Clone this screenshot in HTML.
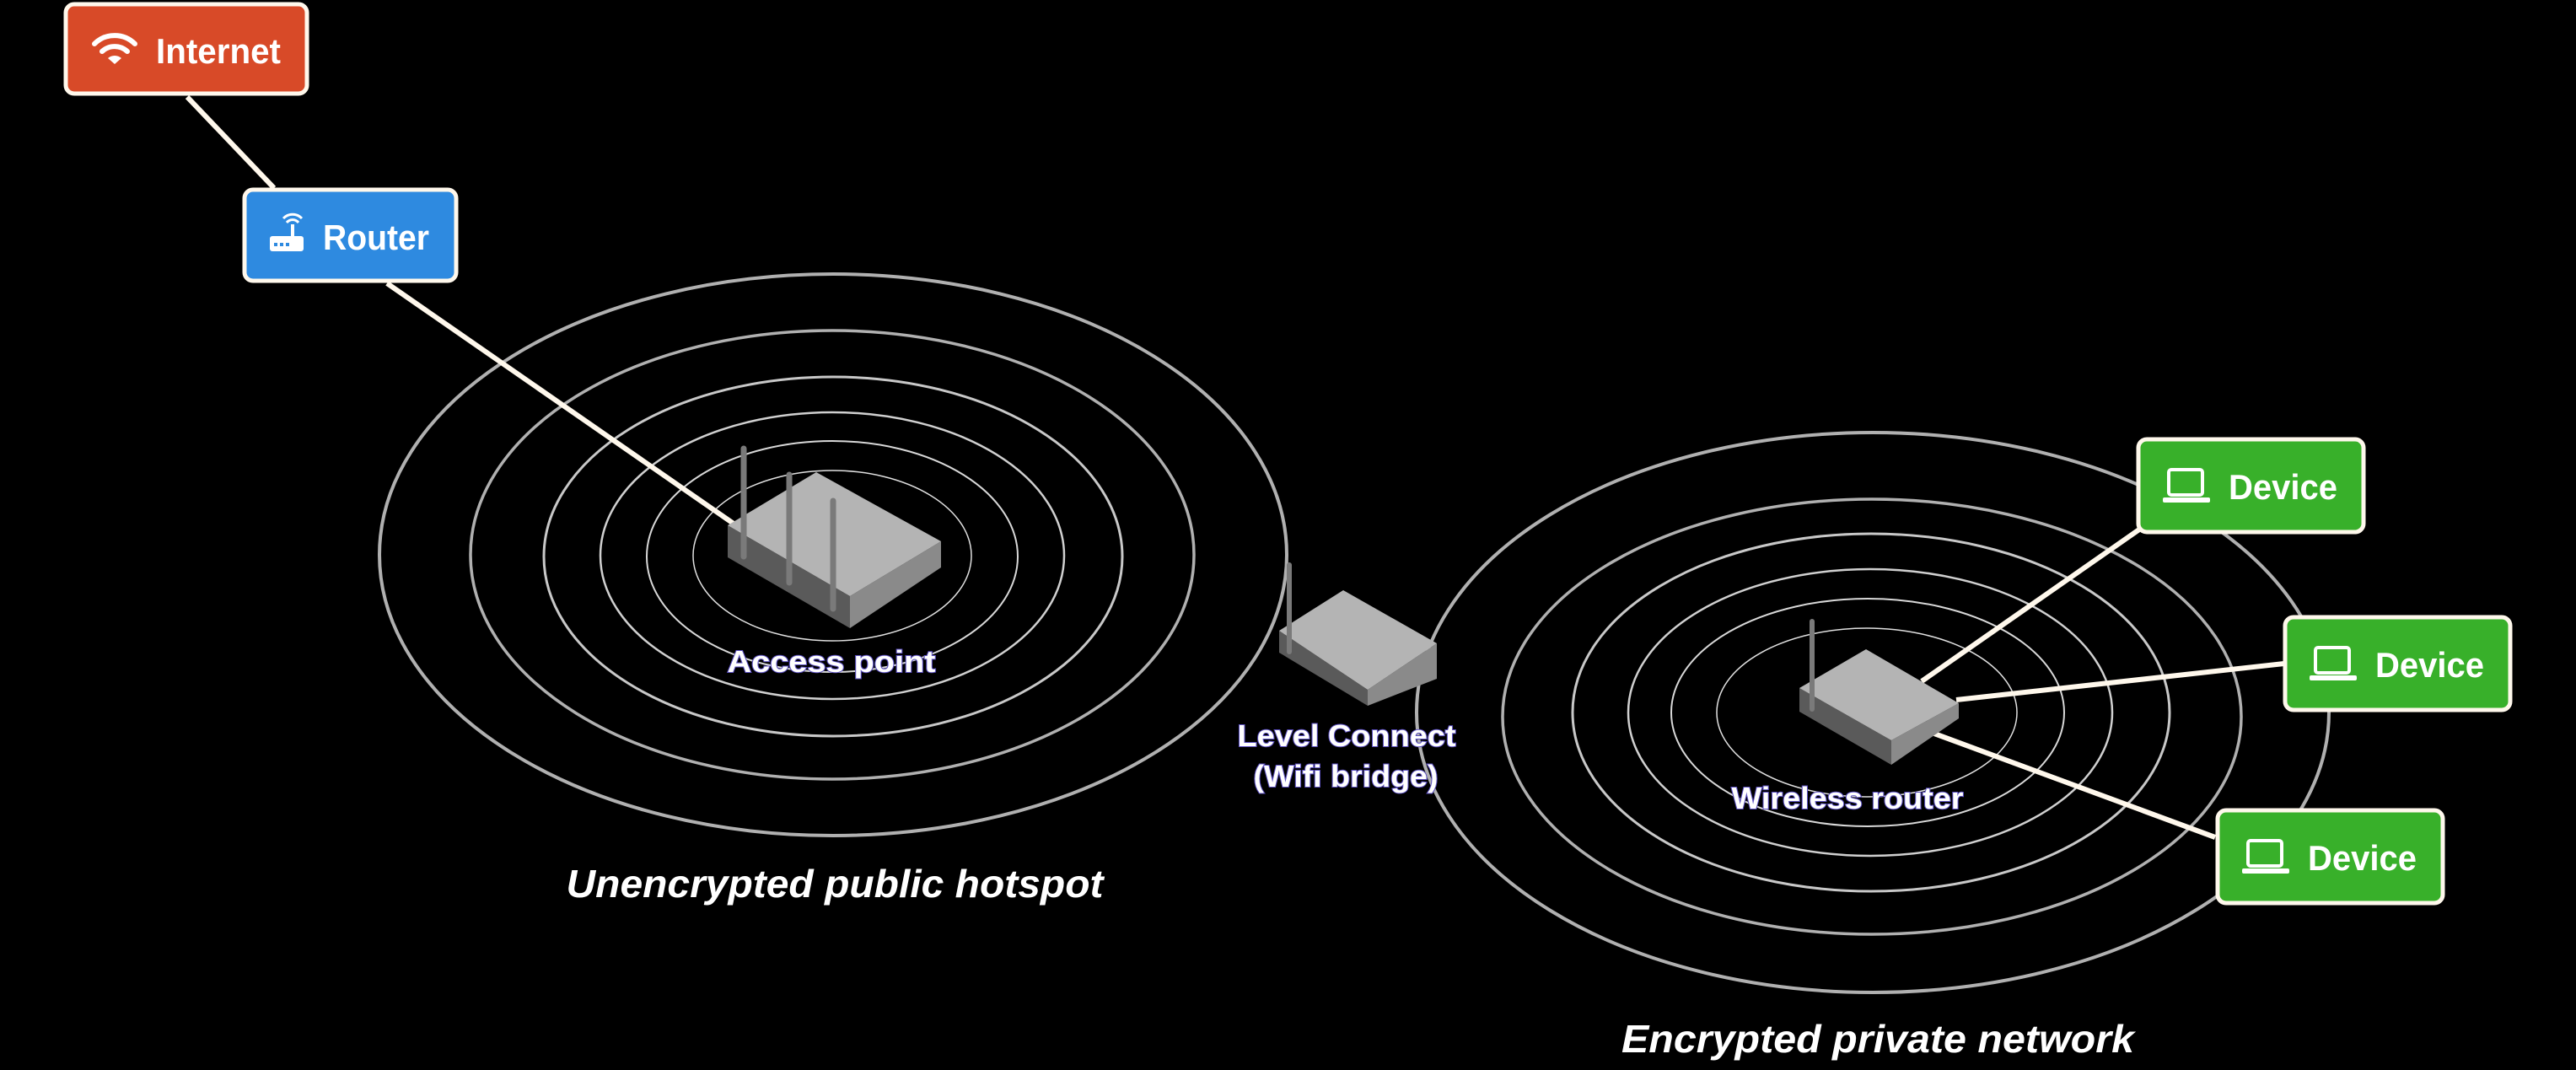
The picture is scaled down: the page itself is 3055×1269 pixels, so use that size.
<!DOCTYPE html>
<html><head><meta charset="utf-8"><style>
html,body{margin:0;padding:0;background:#000;}
svg{display:block}
text{font-family:"Liberation Sans",sans-serif;font-weight:bold;}
.lbl{fill:#fff;stroke:#5b4fc0;stroke-width:2;paint-order:stroke;font-size:36px}
.bt{fill:#fff;font-size:42px}
.it{fill:#fff;font-style:italic;font-size:46px}
</style></head><body>
<svg width="3055" height="1269" viewBox="0 0 3055 1269" xmlns="http://www.w3.org/2000/svg">
<rect width="3055" height="1269" fill="#000"/>
<g fill="none" stroke="#b0b0b0">
<ellipse cx="988" cy="658" rx="538" ry="333" stroke-width="4"/>
<ellipse cx="987" cy="658" rx="429" ry="266" stroke-width="3.5"/>
<ellipse cx="988" cy="660" rx="343" ry="213" stroke-width="3" stroke="#c8c8c8"/>
<ellipse cx="987" cy="659" rx="275" ry="170" stroke-width="2.5" stroke="#d0d0d0"/>
<ellipse cx="987" cy="660" rx="220" ry="137" stroke-width="2" stroke="#d8d8d8"/>
<ellipse cx="987" cy="659" rx="165" ry="101" stroke-width="1.5" stroke="#e0e0e0"/>
<ellipse cx="2221" cy="845" rx="541" ry="332" stroke-width="4"/>
<ellipse cx="2220" cy="850" rx="438" ry="258" stroke-width="3.5"/>
<ellipse cx="2219" cy="845" rx="354" ry="212" stroke-width="3" stroke="#c8c8c8"/>
<ellipse cx="2218" cy="845" rx="287" ry="170" stroke-width="2.5" stroke="#d0d0d0"/>
<ellipse cx="2215" cy="845" rx="233" ry="135" stroke-width="2" stroke="#d8d8d8"/>
<ellipse cx="2214" cy="845" rx="178" ry="100" stroke-width="1.5" stroke="#e0e0e0"/>
</g>
<g stroke="#fff8ec" stroke-width="6" fill="none">
<line x1="222" y1="115" x2="325" y2="223"/>
<line x1="459" y1="336" x2="870" y2="621"/>
<line x1="2537" y1="628" x2="2279" y2="808"/>
<line x1="2709" y1="787" x2="2320" y2="830"/>
<line x1="2627" y1="993" x2="2294" y2="870"/>
</g>
<!-- Access point -->
<polygon points="863,623 1008,707 1008,745 863,661" fill="#5a5a5a"/>
<polygon points="1008,707 1116,642 1116,673 1008,745" fill="#8a8a8a"/>
<polygon points="968,560 1116,642 1008,707 863,623" fill="#b4b4b4"/>
<g stroke="#7a7a7a" stroke-width="7" stroke-linecap="round">
<line x1="882" y1="532" x2="882" y2="660"/>
<line x1="936" y1="563" x2="936" y2="691"/>
<line x1="988" y1="594" x2="988" y2="722"/>
</g>
<!-- Level connect -->
<polygon points="1517,748 1622,818 1622,837 1517,774" fill="#5a5a5a"/>
<polygon points="1622,818 1704,763 1704,805 1622,837" fill="#8a8a8a"/>
<polygon points="1593,700 1704,763 1622,818 1517,748" fill="#b4b4b4"/>
<line x1="1529" y1="670" x2="1529" y2="773" stroke="#7a7a7a" stroke-width="6" stroke-linecap="round"/>
<!-- Wireless router -->
<polygon points="2134,816 2243,878 2243,907 2134,844" fill="#5a5a5a"/>
<polygon points="2243,878 2323,834 2323,852 2243,907" fill="#8a8a8a"/>
<polygon points="2213,770 2323,834 2243,878 2134,816" fill="#b4b4b4"/>
<line x1="2149" y1="737" x2="2149" y2="841" stroke="#7a7a7a" stroke-width="6" stroke-linecap="round"/>
<!-- labels -->
<text class="lbl" x="986" y="797" text-anchor="middle" textLength="247" lengthAdjust="spacingAndGlyphs">Access point</text>
<text class="lbl" x="1597" y="885" text-anchor="middle" textLength="259" lengthAdjust="spacingAndGlyphs">Level Connect</text>
<text class="lbl" x="1596" y="933" text-anchor="middle" textLength="219" lengthAdjust="spacingAndGlyphs">(Wifi bridge)</text>
<text class="lbl" x="2191" y="959" text-anchor="middle" textLength="275" lengthAdjust="spacingAndGlyphs">Wireless router</text>
<text class="it" x="990" y="1064" text-anchor="middle" textLength="637" lengthAdjust="spacingAndGlyphs">Unencrypted public hotspot</text>
<text class="it" x="2227" y="1248" text-anchor="middle" textLength="608" lengthAdjust="spacingAndGlyphs">Encrypted private network</text>
<!-- Internet -->
<rect x="78" y="5" width="286" height="106" rx="10" fill="#d84a28" stroke="#fff8ec" stroke-width="5"/>
<g fill="none" stroke="#fff" stroke-width="6" stroke-linecap="round">
<path d="M112,52 A34,34 0 0 1 160,52"/>
<path d="M121,61 A22,22 0 0 1 151,61"/>
</g>
<path d="M128,69 L136,76 L144,69 A12,12 0 0 0 128,69 Z" fill="#fff"/>
<text class="bt" x="185" y="75" textLength="148" lengthAdjust="spacingAndGlyphs">Internet</text>
<!-- Router -->
<rect x="290" y="225" width="251" height="108" rx="10" fill="#2e8ae0" stroke="#fff8ec" stroke-width="5"/>
<rect x="320" y="280" width="40" height="18" rx="3" fill="#fff"/>
<line x1="347" y1="280" x2="347" y2="266" stroke="#fff" stroke-width="4"/>
<g fill="none" stroke="#fff" stroke-width="3"><path d="M340,264 A9,9 0 0 1 354,264"/><path d="M336,259 A15,15 0 0 1 358,259"/></g>
<g fill="#2e8ae0"><rect x="325" y="288" width="4" height="4"/><rect x="332" y="288" width="4" height="4"/><rect x="339" y="288" width="4" height="4"/></g>
<text class="bt" x="383" y="296" textLength="126" lengthAdjust="spacingAndGlyphs">Router</text>
<!-- Devices -->
<g id="dev">
<rect x="2536" y="521" width="267" height="110" rx="10" fill="#38b02a" stroke="#fff8ec" stroke-width="5"/>
<rect x="2572" y="557" width="40" height="30" rx="3" fill="none" stroke="#fff" stroke-width="4"/>
<rect x="2565" y="590" width="56" height="6" rx="2" fill="#fff"/>
<text class="bt" x="2643" y="592" textLength="129" lengthAdjust="spacingAndGlyphs">Device</text>
</g>
<use href="#dev" transform="translate(174,211)"/>
<use href="#dev" transform="translate(94,440)"/>
</svg>
</body></html>
